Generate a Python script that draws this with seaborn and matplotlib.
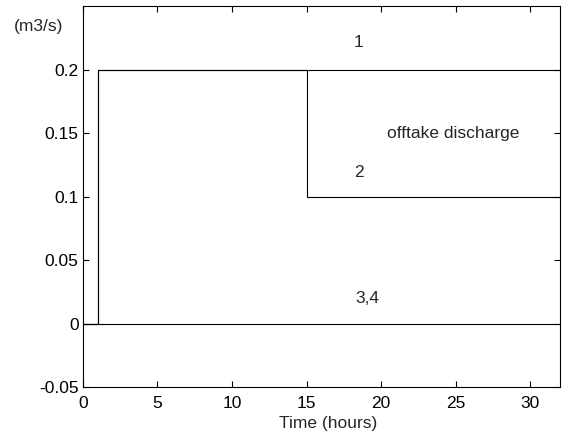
import matplotlib
matplotlib.use("Agg")
import matplotlib.pyplot as plt
import seaborn as sns
import pandas as pd

# offtake discharge (m3/s) vs time (hours), step changes
t_1 = [0, 1, 32]
q_1 = [0, 0.2, 0.2]
t_2 = [0, 1, 15, 32]
q_2 = [0, 0.2, 0.1, 0.1]
t_34 = [0, 32]
q_34 = [0, 0]

x_ticks = [0, 5, 10, 15, 20, 25, 30]
y_ticks = [-0.05, 0, 0.05, 0.1, 0.15, 0.2]
y_tick_labels = ["-0.05", "0", "0.05", "0.1", "0.15", "0.2"]

sns.set_style("white")
plt.rcParams['font.family'] = ['Liberation Sans', 'DejaVu Sans']
fs = 12.5

fig = plt.figure(figsize=(5.63, 4.36), dpi=100)
ax = fig.add_axes([0.147, 0.112, 0.848, 0.874])

for t, q in [(t_1, q_1), (t_2, q_2), (t_34, q_34)]:
    df = pd.DataFrame({"t": t, "q": q})
    sns.lineplot(data=df, x="t", y="q", ax=ax, color="black", linewidth=0.8,
                 drawstyle="steps-post", estimator=None, sort=False)

ax.set_xlim(0, 32)
ax.set_ylim(-0.05, 0.25)
ax.set_xticks(x_ticks)
ax.set_yticks(y_ticks)
ax.set_yticklabels(y_tick_labels)
ax.tick_params(direction="in", length=4, width=0.8, labelsize=fs, top=True, right=True,
               bottom=True, left=True, colors="black", pad=3)
ax.tick_params(axis="x", pad=6)
for s in ax.spines.values():
    s.set_color("black")
    s.set_linewidth(0.8)

ax.set_xlabel("Time (hours)", fontsize=fs)
ax.xaxis.set_label_coords(0.514, -0.075)
ax.set_ylabel("")

ax.text(18.45, 0.221, "1", fontsize=fs, ha="center", va="center")
ax.text(18.5, 0.119, "2", fontsize=fs, ha="center", va="center")
ax.text(24.8, 0.15, "offtake discharge", fontsize=fs, ha="center", va="center")
ax.text(19.05, 0.0195, "3,4", fontsize=fs, ha="center", va="center")
fig.text(0.068, 0.94, "(m3/s)", fontsize=fs, ha="center", va="center")

fig.savefig("out.png", dpi=100)
